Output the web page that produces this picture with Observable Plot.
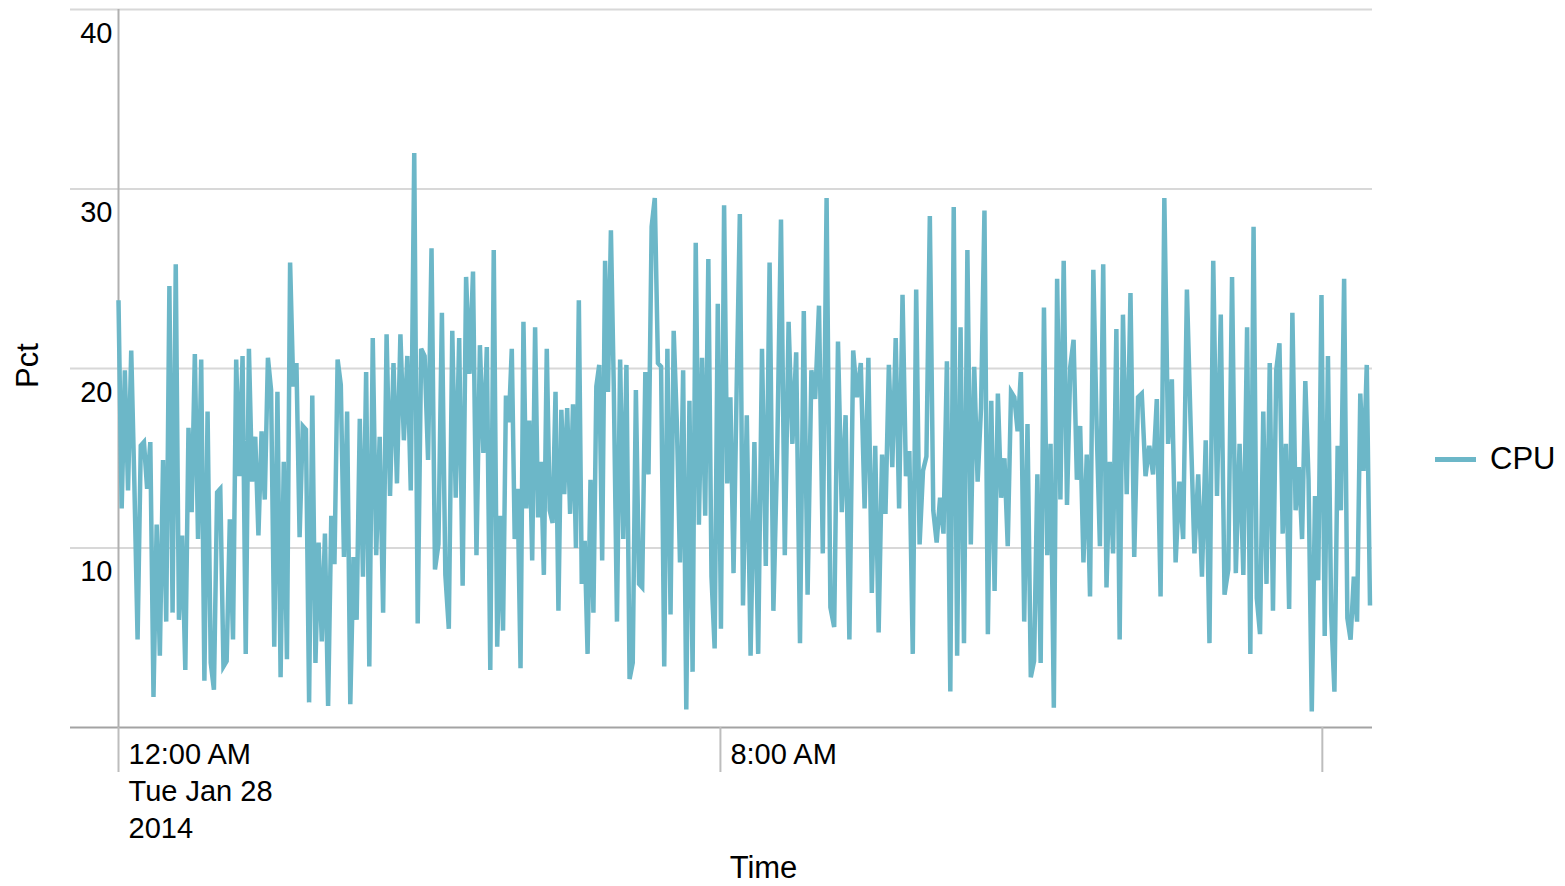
<!DOCTYPE html>
<html>
<head>
<meta charset="utf-8">
<script src="https://cdn.jsdelivr.net/npm/d3@7"></script>
<script src="https://cdn.jsdelivr.net/npm/@observablehq/plot@0.6"></script>
<style>
  html, body { margin: 0; padding: 0; background: #fff; }
  #wrap { position: relative; width: 1565px; height: 886px; font-family: "Liberation Sans", Arial, sans-serif; }
  #legend { position: absolute; left: 1435px; top: 441px; height: 36px; display: flex; align-items: center; gap: 14px; font-size: 31px; color: #000; }
  #legend .sw { width: 41px; height: 5px; background: #6cb7c8; }
</style>
</head>
<body>
<div id="wrap"><div id="chart"></div><div id="legend"><div class="sw"></div><span>CPU</span></div></div>
<script>
// Series name and colour
const seriesName = "CPU";
const seriesColor = "#6cb7c8";
const day = "2014-01-28";
// Start time (HH:MM) of each reading block, and time of the last reading
const blockStarts = ["00:00", "01:44", "03:20", "05:02", "06:35", "08:18", "09:58", "11:36", "13:21", "15:00"];
const lastReading = "16:38";
const axisEnd = "16:40";
// CPU percent readings, block by block
const cpu0 = [23.8, 12.2, 19.9, 13.2, 21.0, 13.5, 4.9, 15.7, 15.9, 13.3, 15.9, 1.7, 11.3, 4.0, 14.9, 5.9, 24.6, 6.4, 25.8, 6.0, 10.7, 3.2, 16.7, 12.0, 20.8, 10.5, 20.5, 2.6, 17.6, 3.6, 2.1, 13.1, 13.3, 3.4, 3.7, 11.6, 4.9, 20.5, 14.0, 20.7, 4.1];
const cpu1 = [21.1, 13.7, 16.2, 10.7, 16.5, 12.7, 20.6, 18.8, 4.5, 18.7, 2.8, 14.8, 3.8, 25.9, 19.0, 20.3, 10.6, 16.8, 16.6, 1.4, 18.5, 3.6, 10.3, 4.8, 10.8, 1.2, 11.8, 9.1, 20.5, 19.1, 9.5, 17.6, 1.3, 9.5, 6.0, 17.2, 8.4, 19.8];
const cpu2 = [3.4, 21.7, 9.6, 16.2, 6.4, 21.9, 12.9, 20.3, 13.6, 21.9, 16.0, 20.7, 13.2, 32.0, 5.8, 21.1, 20.7, 14.9, 26.7, 8.8, 10.2, 23.1, 8.5, 5.5, 22.1, 12.8, 21.7, 7.9, 25.1, 19.7, 25.4, 9.6, 21.3, 15.3, 21.2, 3.2, 26.6];
const cpu3 = [4.5, 11.8, 5.4, 18.5, 17.0, 21.1, 10.5, 13.3, 3.3, 22.6, 12.2, 17.1, 9.3, 22.3, 11.7, 14.8, 8.5, 21.1, 12.1, 11.4, 18.7, 6.5, 17.7, 13.0, 17.8, 11.9, 18.0, 10.0, 23.8, 8.0, 10.4, 4.1, 13.8, 6.4, 19.0, 20.2, 9.3, 26.0, 18.7, 27.7];
const cpu4 = [18.8, 5.9, 20.5, 10.5, 20.2, 2.7, 3.6, 18.8, 8.0, 7.8, 19.8, 14.1, 27.9, 29.5, 20.3, 20.1, 3.4, 21.1, 6.3, 22.1, 17.0, 9.2, 19.9, 1.0, 18.2, 3.1, 27.0, 11.3, 20.6, 11.8, 26.1, 8.4, 4.4, 23.6, 5.5, 29.1, 13.6, 18.4, 8.6, 19.0, 28.6];
const cpu5 = [6.8, 17.4, 4.0, 15.9, 4.1, 21.1, 9.0, 25.9, 6.5, 15.3, 28.3, 9.6, 22.6, 15.8, 20.9, 4.7, 23.2, 7.4, 19.9, 18.3, 23.5, 9.7, 29.5, 6.7, 5.6, 21.5, 12.0, 17.4, 4.9, 21.0, 18.4, 20.3, 12.2];
const cpu6 = [20.6, 7.5, 15.7, 5.3, 15.2, 11.9, 20.2, 14.5, 21.7, 12.2, 24.1, 14.0, 15.4, 4.1, 24.4, 10.2, 14.3, 15.1, 28.5, 12.1, 10.3, 12.8, 10.8, 20.4, 2.0, 29.0, 4.0, 22.3, 4.7, 26.6, 10.2, 20.1, 13.7, 17.8, 28.8, 5.2];
const cpu7 = [18.2, 7.6, 18.6, 12.8, 15.0, 10.1, 18.7, 18.4, 16.5, 19.8, 5.9, 16.9, 2.8, 3.7, 14.1, 3.6, 23.4, 9.6, 15.8, 1.1, 25.0, 12.7, 26.0, 12.4, 20.1, 21.6, 13.8, 16.8, 9.2, 15.2, 7.3, 25.5, 16.8, 10.1, 25.8, 7.8, 14.8, 9.7, 22.2, 4.9];
const cpu8 = [23.0, 13.0, 24.2, 9.5, 18.4, 18.6, 14.0, 15.7, 14.1, 18.3, 7.3, 29.5, 15.8, 19.4, 9.2, 13.7, 10.5, 24.4, 16.8, 9.7, 14.1, 8.4, 16.0, 4.7, 26.0, 12.9, 23.0, 7.4, 8.8, 25.1, 8.6, 15.8, 8.5];
const cpu9 = [22.3, 4.1, 27.9, 7.2, 5.2, 17.6, 8.0, 20.3, 6.5, 19.9, 21.4, 10.8, 15.8, 6.6, 23.1, 12.1, 14.5, 10.5, 19.3, 13.8, 0.9, 12.9, 8.2, 24.1, 5.1, 20.7, 6.3, 2.0, 15.7, 12.1, 25.0, 6.1, 4.9, 8.4, 5.9, 18.6, 14.3, 20.2, 6.8];
const blocks = [cpu0, cpu1, cpu2, cpu3, cpu4, cpu5, cpu6, cpu7, cpu8, cpu9];
// Axis ticks
const yTicks = [10, 20, 30, 40];
const xTickTimes = ["00:00", "08:00", "16:00"];
const xTickLabels = ["12:00 AM\nTue Jan 28\n2014", "8:00 AM", ""];
const yLabel = "Pct";
const xLabel = "Time";

const toDate = (hm) => new Date(`${day}T${hm}:00Z`);
const t0 = toDate("00:00");
const tEnd = toDate(axisEnd);
const starts = blockStarts.map(toDate).concat([toDate(lastReading)]);

const data = [];
blocks.forEach((vals, k) => {
  const a = +starts[k], b = +starts[k + 1];
  const n = k === blocks.length - 1 ? vals.length - 1 : vals.length;
  vals.forEach((v, i) => data.push({time: new Date(a + (b - a) * i / n), cpu: v, series: seriesName}));
});

const tickDates = xTickTimes.map(toDate);
const labelOf = new Map(tickDates.map((d, i) => [+d, xTickLabels[i]]));

const chart = Plot.plot({
  width: 1565,
  height: 886,
  marginTop: 9,
  marginBottom: 159,
  marginLeft: 70,
  marginRight: 193,
  style: {fontFamily: "Liberation Sans, Arial, sans-serif", background: "#fff", color: "#000"},
  x: {type: "utc", domain: [t0, tEnd], range: [118, 1372], label: null},
  y: {domain: [0, 40], label: null},
  marks: [
    Plot.ruleY(yTicks, {stroke: "#d8d8d8", strokeWidth: 2}),
    Plot.ruleY([0], {stroke: "#a3a3a3", strokeWidth: 2}),
    Plot.ruleX([t0], {stroke: "#b0b0b0", strokeWidth: 2}),
    Plot.lineY(data, {x: "time", y: "cpu", stroke: seriesColor, strokeWidth: 4.5, strokeLinejoin: "miter", strokeMiterlimit: 4, strokeLinecap: "butt"}),
    Plot.axisX(tickDates, {tickSize: 45, stroke: "#bdbdbd", strokeWidth: 2, tickFormat: () => "", label: null}),
    Plot.axisX(tickDates, {
      tickSize: 0, tickPadding: 10, fill: "#000", label: null,
      textAnchor: "start", dx: 10, fontSize: 29, lineHeight: 1.28,
      tickFormat: (d) => labelOf.get(+d) ?? ""
    }),
    Plot.axisY(yTicks, {anchor: "left", tickSize: 0, tickPadding: 0, dx: 42, dy: 24, textAnchor: "end", fontSize: 29, fill: "#000", label: null}),
    Plot.text([xLabel], {frameAnchor: "bottom", lineAnchor: "middle", textAnchor: "middle", dx: 42, dy: 141, fontSize: 31, fill: "#000"}),
    Plot.text([yLabel], {frameAnchor: "left", rotate: -90, textAnchor: "middle", lineAnchor: "middle", dx: -42, dy: -3, fontSize: 31, fill: "#000"})
  ]
});
document.getElementById("chart").appendChild(chart);
</script>
</body>
</html>
